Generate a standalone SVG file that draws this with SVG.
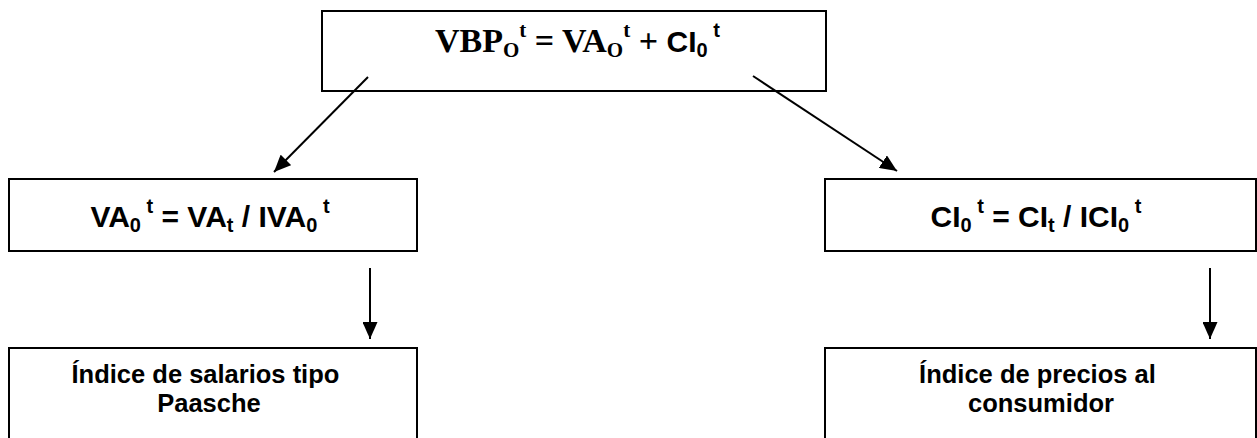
<svg xmlns="http://www.w3.org/2000/svg" width="1257" height="438" viewBox="0 0 1257 438">
  <style>
    .box { fill: #ffffff; stroke: #000000; stroke-width: 2; }
    .edge { stroke: #000000; stroke-width: 2; fill: none; }
    .sans { font-family: "Liberation Sans", Arial, sans-serif; font-weight: bold; fill: #000000; }
    .serif { font-family: "Liberation Serif", "Times New Roman", serif; font-weight: bold; fill: #000000; }
  </style>
  <defs>
    <marker id="arrow" viewBox="0 0 17 15" refX="17" refY="7.5" markerWidth="17" markerHeight="15" markerUnits="userSpaceOnUse" orient="auto">
      <path d="M0,0 L17,7.5 L0,15 Z" fill="#000000"/>
    </marker>
  </defs>
  <rect width="1257" height="438" fill="#ffffff"/>

  <g id="node-vbp">
    <rect class="box" x="322" y="11" width="504" height="80"/>
    <text x="435" y="52" font-size="34"><tspan class="serif">VBP</tspan><tspan class="serif" font-size="21" dy="5">O</tspan><tspan class="serif" font-size="21" dy="-20">t</tspan><tspan class="serif" dy="15"> = VA</tspan><tspan class="serif" font-size="21" dy="5">O</tspan><tspan class="serif" font-size="21" dy="-20">t</tspan><tspan class="serif" dy="15"> + </tspan><tspan class="sans" font-size="30">CI</tspan><tspan class="sans" font-size="20" dy="5">0</tspan><tspan class="sans" font-size="20" dy="-20"> t</tspan></text>
  </g>

  <g id="node-va">
    <rect class="box" x="9" y="179" width="408" height="72"/>
    <text class="sans" x="210" y="227" font-size="30" text-anchor="middle">VA<tspan font-size="20" dy="5">0</tspan><tspan font-size="20" dy="-19"> t</tspan><tspan dy="14"> = VA</tspan><tspan font-size="20" dy="5">t</tspan><tspan dy="-5"> / IVA</tspan><tspan font-size="20" dy="5">0</tspan><tspan font-size="20" dy="-19"> t</tspan></text>
  </g>

  <g id="node-ci">
    <rect class="box" x="825" y="179" width="431" height="72"/>
    <text class="sans" x="1036" y="227" font-size="30" text-anchor="middle">CI<tspan font-size="20" dy="5">0</tspan><tspan font-size="20" dy="-19"> t</tspan><tspan dy="14"> = CI</tspan><tspan font-size="20" dy="5">t</tspan><tspan dy="-5"> / ICI</tspan><tspan font-size="20" dy="5">0</tspan><tspan font-size="20" dy="-19"> t</tspan></text>
  </g>

  <g id="node-salarios">
    <rect class="box" x="9" y="348" width="408" height="110"/>
    <text class="sans" font-size="25.5" text-anchor="middle">
      <tspan x="209" y="383">Índice de salarios tipo</tspan>
      <tspan x="209" y="412">Paasche</tspan>
    </text>
  </g>

  <g id="node-precios">
    <rect class="box" x="825" y="348" width="431" height="110"/>
    <text class="sans" font-size="25.5" text-anchor="middle">
      <tspan x="1041" y="383">Índice de precios al</tspan>
      <tspan x="1041" y="412">consumidor</tspan>
    </text>
  </g>

  <g id="connectors">
    <line class="edge" x1="368" y1="77" x2="274" y2="172" marker-end="url(#arrow)"/>
    <line class="edge" x1="753" y1="76" x2="897" y2="171" marker-end="url(#arrow)"/>
    <line class="edge" x1="370" y1="268" x2="370" y2="339" marker-end="url(#arrow)"/>
    <line class="edge" x1="1210" y1="268" x2="1210" y2="339" marker-end="url(#arrow)"/>
  </g>
</svg>
